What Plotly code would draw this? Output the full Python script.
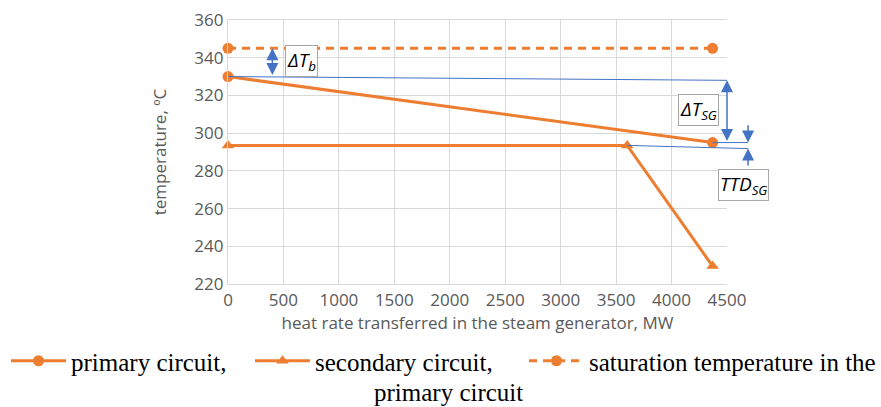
import plotly.graph_objects as go

# ---- data ----
primary_x = [0, 4370]
primary_y = [330, 295]
secondary_x = [0, 3600, 4370]
secondary_y = [293.5, 293.5, 229.5]
saturation_x = [0, 4370]
saturation_y = [345, 345]

# helper (blue) construction lines
helper_top_x = [0, 4500]
helper_top_y = [330, 328]
helper_pri_x = [4370, 4690]
helper_pri_y = [295, 295]
helper_sec_x = [3600, 4690]
helper_sec_y = [293.5, 291.8]

x_ticks = [0, 500, 1000, 1500, 2000, 2500, 3000, 3500, 4000, 4500]
y_ticks = [220, 240, 260, 280, 300, 320, 340, 360]

ORANGE = "#ED7D31"
BLUE = "#4472C4"
GRID = "#D9D9D9"
TXT = "#595959"

# body margin is removed in the page (post_script), so no offset
OFF = 0
W, H = 881, 407
ML, MT = 228 - OFF, 20 - OFF
PW, PH = 499, 264
MR, MB = W - ML - PW, H - MT - PH
XR = [0, 4500]
YR = [220, 360]


def px(x):  # data x -> paper fraction
    return (x - XR[0]) / (XR[1] - XR[0])


def py(y):  # data y -> paper fraction
    return (y - YR[0]) / (YR[1] - YR[0])


def sx(X):  # screenshot pixel x -> paper
    return (X - OFF - ML) / PW


def sy(Y):  # screenshot pixel y -> paper
    return (MT + PH - (Y - OFF)) / PH


NB = "\u00a0"
fig = go.Figure()

fig.add_trace(go.Scatter(x=primary_x, y=primary_y, mode="lines+markers",
                         name="primary circuit,", legend="legend",
                         line=dict(color=ORANGE, width=3),
                         marker=dict(symbol="circle", size=11, color=ORANGE),
                         cliponaxis=False))
fig.add_trace(go.Scatter(x=secondary_x, y=secondary_y, mode="lines+markers",
                         name="secondary circuit,", legend="legend2",
                         line=dict(color=ORANGE, width=3),
                         marker=dict(symbol="triangle-up", size=11, color=ORANGE),
                         cliponaxis=False))
fig.add_trace(go.Scatter(x=saturation_x, y=saturation_y, mode="lines+markers",
                         name="saturation temperature in the" + NB * 2,
                         legend="legend3",
                         line=dict(color=ORANGE, width=3, dash="8px,6px"),
                         marker=dict(symbol="circle", size=11, color=ORANGE),
                         cliponaxis=False))

# blue construction lines (may extend past the plot's right edge -> paper refs)
for hx, hy in [(helper_top_x, helper_top_y), (helper_pri_x, helper_pri_y),
               (helper_sec_x, helper_sec_y)]:
    fig.add_shape(type="line", xref="paper", yref="paper",
                  x0=px(hx[0]), y0=py(hy[0]), x1=px(hx[1]), y1=py(hy[1]),
                  line=dict(color=BLUE, width=1))

LEG_FONT = dict(family="Liberation Serif", size=25, color="black")
leg_top = sy(338)
IW = 55


def leg(text_x):
    return dict(orientation="h", x=sx(text_x - IW - 10), y=leg_top, xanchor="left",
                yanchor="top", font=LEG_FONT, bgcolor="rgba(0,0,0,0)",
                itemwidth=IW)


fig.update_layout(
    width=W, height=H,
    margin=dict(l=ML, r=MR, t=MT, b=MB, autoexpand=False),
    plot_bgcolor="white", paper_bgcolor="white",
    font=dict(family="Open Sans", size=17, color=TXT),
    xaxis=dict(range=XR, tickvals=x_ticks,
               showgrid=True, gridcolor=GRID, gridwidth=1.3, zeroline=False,
               showline=True, linecolor=GRID, linewidth=1.3, mirror=True,
               ticks="", tickfont=dict(size=17, color=TXT), automargin=False,
               ticklabeloverflow="allow",
               title=dict(text="heat rate transferred in the steam generator, MW",
                          font=dict(size=17, color=TXT), standoff=4)),
    yaxis=dict(range=YR, tickvals=y_ticks,
               showgrid=True, gridcolor=GRID, gridwidth=1.3, zeroline=False,
               showline=True, linecolor=GRID, linewidth=1.3,
               ticks="", tickfont=dict(size=17, color=TXT), automargin=False,
               ticklabeloverflow="allow",
               title=dict(text="temperature, ºC", font=dict(size=17, color=TXT),
                          standoff=23)),
    legend=leg(71),
    legend2=leg(315),
    legend3=leg(589),
    showlegend=True,
)

# second line of the 3rd legend entry
fig.add_annotation(text="primary circuit", xref="paper", yref="paper",
                   x=sx(448), y=sy(392),
                   showarrow=False, xanchor="center", yanchor="middle",
                   font=LEG_FONT)

PXY = PH / (YR[1] - YR[0])  # pixels per degree


def arrow(x, y_tail, y_head, both=False):
    fig.add_annotation(x=px(x), y=y_head, xref="paper", yref="y",
                       ax=0, ay=(y_head - y_tail) * PXY, axref="pixel", ayref="pixel",
                       text="", showarrow=True,
                       arrowhead=2, startarrowhead=2, arrowsize=1.6,
                       startarrowsize=1.6, arrowwidth=1.5, arrowcolor=BLUE,
                       arrowside="end+start" if both else "end")


arrow(400, 330, 345, both=True)
arrow(4500, 295, 328, both=True)
arrow(4690, 305, 295)
arrow(4690, 282, 291.8)


def label(x, y, txt):
    fig.add_annotation(x=px(x), y=y, xref="paper", yref="y", text=txt,
                       showarrow=False, xanchor="center", yanchor="middle",
                       font=dict(family="Open Sans", size=19, color="black"),
                       bgcolor="white", bordercolor="#A6A6A6", borderwidth=1,
                       borderpad=1)


label(660, 338.5, "<i>ΔT<sub>b</sub></i>")
label(4240, 312.3, "<i>ΔT<sub>SG</sub></i>")
label(4650, 272.5, "<i>TTD<sub>SG</sub></i>")

fig.write_html("out.html",
               config={"displayModeBar": False},
               post_script="document.body.style.margin='0px';"
                           "document.body.style.overflow='hidden';")
